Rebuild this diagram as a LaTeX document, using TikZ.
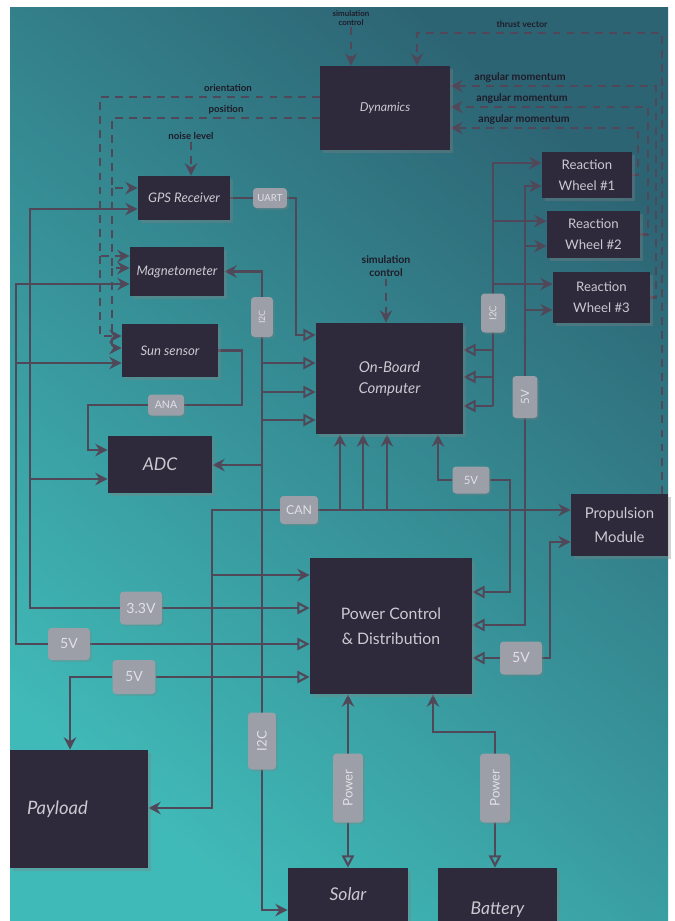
\documentclass[tikz,border=0pt]{standalone}
\usepackage{fontspec}
\setmainfont{Lato}
\usetikzlibrary{arrows.meta, positioning, shadows}
\definecolor{tealdk}{HTML}{2D6474}
\definecolor{teallt}{HTML}{40BAB8}
\definecolor{blkfill}{HTML}{2E2A3B}
\definecolor{blktext}{HTML}{CBC9D1}
\definecolor{tagfill}{HTML}{9C9EA8}
\definecolor{tagtext}{HTML}{E0E1E5}
\definecolor{wire}{HTML}{504859}
\definecolor{notetext}{HTML}{1F1C29}
\pgfdeclarelayer{bg}
\pgfdeclarelayer{wires}
\pgfsetlayers{bg,wires,main}
\tikzset{
  blk/.style={fill=blkfill, text=blktext, align=center, inner sep=2pt, font=\fontsize{8}{10}\selectfont,
    drop shadow={opacity=0.35, shadow xshift=1.5pt, shadow yshift=-1.5pt}},
  blki/.style={blk, font=\fontsize{8}{10}\selectfont\itshape},
  tg/.style={fill=tagfill, text=tagtext, rounded corners=2pt, inner sep=1pt, font=\fontsize{7}{8}\selectfont,
    drop shadow={opacity=0.3, shadow xshift=1pt, shadow yshift=-1pt}},
  nt/.style={text=notetext, align=center, inner sep=1pt, font=\fontsize{5.5}{6}\selectfont\bfseries},
  ln/.style={draw=wire, line width=1.5pt},
  a/.style={ln, -{Stealth[length=7pt, width=7pt]}},
  ah/.style={ln, -{Triangle[open, length=7pt, width=7pt, line width=1.2pt]}},
  ad/.style={a, dash pattern=on 4.5pt off 3.5pt},
}

\begin{document}
\begin{tikzpicture}[x=0.02cm, y=-0.02cm]
\useasboundingbox (0,0) rectangle (675,921);
\begin{pgfonlayer}{bg}
\fill[white] (0,0) rectangle (675,921);
\shade[top color=tealdk, bottom color=teallt, shading angle=-40] (10,7) rectangle (668,921);
\end{pgfonlayer}

% blocks
\node[blki, minimum width=2.6cm, minimum height=1.68cm, font=\fontsize{7}{8}\selectfont\itshape] (dyn) at (385,108) {Dynamics};
\node[blki, minimum width=1.84cm, minimum height=0.88cm, font=\fontsize{7.5}{9}\selectfont\itshape] (gps) at (184,198) {GPS Receiver};
\node[blki, minimum width=1.88cm, minimum height=0.98cm, font=\fontsize{7.5}{9}\selectfont\itshape] (mag) at (177,271.5) {Magnetometer};
\node[blki, minimum width=1.92cm, minimum height=1.06cm, font=\fontsize{7.5}{9}\selectfont\itshape] (sun) at (170,350.5) {Sun sensor};
\node[blki, minimum width=2.08cm, minimum height=1.14cm, font=\fontsize{10}{12}\selectfont\itshape] (adc) at (160,464.5) {ADC};
\node[blki, minimum width=2.94cm, minimum height=2.22cm, font=\fontsize{8.5}{12}\selectfont\itshape] (obc) at (389.5,378.5) {On-Board\\Computer};
\node[blk, minimum width=1.8cm, minimum height=0.92cm, font=\fontsize{7.5}{12}\selectfont] (rw1) at (587,175) {Reaction\\Wheel \#1};
\node[blk, minimum width=1.86cm, minimum height=0.94cm, font=\fontsize{7.5}{12}\selectfont] (rw2) at (593.5,234.5) {Reaction\\Wheel \#2};
\node[blk, minimum width=1.94cm, minimum height=1.02cm, font=\fontsize{7.5}{12}\selectfont] (rw3) at (601.5,297.5) {Reaction\\Wheel \#3};
\node[blk, minimum width=1.94cm, minimum height=1.24cm, font=\fontsize{8.5}{13.5}\selectfont] (prop) at (619.5,525) {Propulsion\\Module};
\node[blk, minimum width=3.24cm, minimum height=2.72cm, font=\fontsize{9}{14}\selectfont] (pcd) at (391,626) {Power Control\\\& Distribution};
\node[blki, minimum width=2.76cm, minimum height=2.36cm, text width=2.08cm, inner xsep=0.34cm, align=left,
  font=\fontsize{10.5}{12}\selectfont\itshape] (pay) at (79,809) {Payload};
\node[blki, minimum width=2.4cm, minimum height=1.06cm, font=\fontsize{10}{12}\selectfont\itshape] (sol) at (348,894.5) {Solar};
\node[blk, minimum width=2.38cm, minimum height=1.06cm] (bat) at (497.5,894.5) {};
\node[text=blktext, font=\fontsize{10}{12}\selectfont\itshape] (battxt) at (497.5,910) {Battery};

% bus tags
\node[tg, minimum width=0.68cm, minimum height=0.4cm, font=\fontsize{5.5}{6}\selectfont] (uart) at (270,198) {UART};
\node[tg, rotate=90, minimum width=0.8cm, minimum height=0.44cm, font=\fontsize{5}{6}\selectfont] (i2ca) at (262,317) {I2C};
\node[tg, minimum width=0.72cm, minimum height=0.42cm, font=\fontsize{6}{7}\selectfont] (ana) at (166,405) {ANA};
\node[tg, rotate=90, minimum width=0.78cm, minimum height=0.48cm, font=\fontsize{5.5}{6}\selectfont] (i2cc) at (493,313) {I2C};
\node[tg, rotate=90, minimum width=0.84cm, minimum height=0.5cm, font=\fontsize{6.5}{7}\selectfont] (v5d) at (525,397) {5V};
\node[tg, minimum width=0.74cm, minimum height=0.54cm, font=\fontsize{6.5}{7}\selectfont] (v5c) at (471,480) {5V};
\node[tg, minimum width=0.76cm, minimum height=0.56cm] (can) at (299,510) {CAN};
\node[tg, minimum width=0.84cm, minimum height=0.66cm, font=\fontsize{8}{9}\selectfont] (v33) at (141,608) {3.3V};
\node[tg, minimum width=0.84cm, minimum height=0.64cm, font=\fontsize{8}{9}\selectfont] (v5a) at (69,644) {5V};
\node[tg, minimum width=0.86cm, minimum height=0.68cm, font=\fontsize{8}{9}\selectfont] (v5b) at (134,677) {5V};
\node[tg, minimum width=0.84cm, minimum height=0.66cm, font=\fontsize{8}{9}\selectfont] (v5e) at (521,658) {5V};
\node[tg, rotate=90, minimum width=1.14cm, minimum height=0.56cm, font=\fontsize{7.5}{8}\selectfont] (i2cb) at (262,741) {I2C};
\node[tg, rotate=90, minimum width=1.38cm, minimum height=0.6cm, font=\fontsize{7.5}{8}\selectfont] (pw1) at (348,788) {Power};
\node[tg, rotate=90, minimum width=1.38cm, minimum height=0.6cm, font=\fontsize{7.5}{8}\selectfont] (pw2) at (495,788) {Power};

% notes
\node[nt, font=\fontsize{4.5}{5}\selectfont\bfseries] (sim1) at (351,18) {simulation\\control};
\node[nt, font=\fontsize{5}{6}\selectfont\bfseries] (thr) at (522,24) {thrust vector};
\node[nt, font=\fontsize{6}{7}\selectfont\bfseries] (am1) at (520,78) {angular momentum};
\node[nt, font=\fontsize{6}{7}\selectfont\bfseries] (am2) at (522,99) {angular momentum};
\node[nt, font=\fontsize{6}{7}\selectfont\bfseries] (am3) at (524,120) {angular momentum};
\node[nt] (ori) at (228,88) {orientation};
\node[nt] (pos) at (226,110) {position};
\node[nt] (noise) at (191,136) {noise level};
\node[nt, font=\fontsize{6}{7.4}\selectfont\bfseries] (sim2) at (386,266) {simulation\\control};

\begin{pgfonlayer}{wires}
% simulation
\draw[ad] (sim1.south) -- (sim1.south |- dyn.north);
\draw[ad] (prop.north -| 662,0) -- (662,33) -- (417,33) -- (dyn.north -| 417,0);
\draw[ad] (rw3.east) -| (656,86) -- (dyn.east |- 0,86);
\draw[ad] (rw2.east) -| (648,107) -- (dyn.east |- 0,107);
\draw[ad] (rw1.east) -| (638,128) -- (dyn.east |- 0,128);
\draw[ad] (dyn.west |- 0,97) -| (100,256) -- (mag.west |- 0,256);
\draw[ad] (100,256) |- (sun.west |- 0,336);
\draw[ad] (dyn.west |- 0,118) -| (112,188) -- (gps.west |- 0,188);
\draw[ad] (112,188) |- (mag.west |- 0,268);
\draw[ad] (112,268) |- (sun.west |- 0,348);
\draw[ad] (noise.south) -- (noise.south |- gps.north);
\draw[ad] (sim2.south) -- (sim2.south |- obc.north);

% sensors
\draw[ln] (gps.east) -- (uart.west);
\draw[ah] (uart.east) -| (296,335) -- (obc.west |- 0,335);
\draw[a] (i2ca.center) |- (mag.east);
\draw[ln] (i2ca.center) -- (i2cb.center);
\draw[a] (i2cb.center) |- (sol.west |- 0,910);
\foreach \yy in {363,392,420} \draw[ah] (262,\yy) -- (obc.west |- 0,\yy);
\draw[a] (262,465) -- (adc.east |- 0,465);
\draw[ln] (sun.east) -| (242,405) -- (ana.east);
\draw[a] (ana.west) -| (88,450) -- (adc.west |- 0,450);

% supplies, left side
\draw[ah] (v33.east) -- (pcd.west |- v33.east);
\draw[a] (v33.west) -| (30,209) -- (gps.west |- 0,209);
\draw[a] (30,479) -- (adc.west |- 0,479);
\draw[ah] (v5a.east) -- (pcd.west |- v5a.east);
\draw[a] (v5a.west) -| (16,284) -- (mag.west |- 0,284);
\draw[a] (16,363) -- (sun.west |- 0,363);
\draw[ah] (v5b.east) -- (pcd.west |- v5b.east);
\draw[a] (v5b.west) -| (pay.north -| 70,0);

% CAN
\draw[a] (can.east) -- (prop.west |- can.east);
\draw[a] (can.west) -| (212,808) -- (pay.east |- 0,808);
\draw[a] (212,575) -- (pcd.west |- 0,575);
\foreach \xx in {340,363,387} \draw[a] (\xx,510) -- (obc.south -| \xx,0);

% OBC and wheels
\draw[a] (v5c.west) -| (obc.south -| 438,0);
\draw[ah] (v5c.east) -| (510,592) -- (pcd.east |- 0,592);
\draw[ln] (i2cc.center) -- (493,406);
\draw[a] (i2cc.center) |- (rw1.west |- 0,163);
\draw[a] (493,221) -- (rw2.west |- 0,221);
\draw[a] (493,284) -- (rw3.west |- 0,284);
\foreach \yy in {350,377,406} \draw[ah] (493,\yy) -- (obc.east |- 0,\yy);
\draw[a] (v5d.center) |- (rw1.west |- 0,186);
\draw[a] (525,246) -- (rw2.west |- 0,246);
\draw[a] (525,310) -- (rw3.west |- 0,310);
\draw[ah] (v5d.center) |- (pcd.east |- 0,625);
\draw[ah] (v5e.west) -- (pcd.east |- v5e.west);
\draw[a] (v5e.east) -| (550,542) -- (prop.west |- 0,542);

% sources
\draw[a] (pw1.center) -- (pcd.south -| pw1.center);
\draw[ah] (pw1.center) -- (sol.north -| pw1.center);
\draw[a] (pw2.center) |- (433,732) -- (pcd.south -| 433,0);
\draw[ah] (pw2.center) -- (bat.north -| pw2.center);
\end{pgfonlayer}
\end{tikzpicture}
\end{document}
